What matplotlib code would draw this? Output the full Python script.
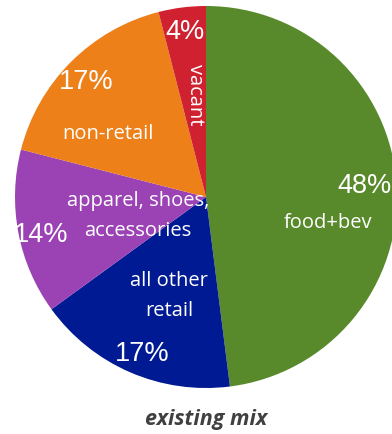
import matplotlib
matplotlib.use("Agg")
import matplotlib.pyplot as plt

# slices, clockwise from 12 o'clock
categories = ["food+bev", "all other retail", "apparel, shoes, accessories", "non-retail", "vacant"]
shares = [48, 17, 14, 17, 4]
colors = ["#58892A", "#001A93", "#9B43B4", "#EE8019", "#CF212F"]
pct_labels = ["48%", "17%", "14%", "17%", "4%"]
cat_labels = ["food+bev", "all other\nretail", "apparel, shoes,\naccessories", "non-retail", "vacant"]

W, H = 392, 434
fig = plt.figure(figsize=(W / 100, H / 100), dpi=100)
ax = fig.add_axes([0, 0, 1, 1])

cx, cy, R = 206, H - 197, 191
wedges, _ = ax.pie(shares, colors=colors, startangle=90, counterclock=False,
                   center=(cx, cy), radius=R, frame=True,
                   wedgeprops=dict(linewidth=0))
ax.set_xlim(0, W)
ax.set_ylim(0, H)
ax.set_aspect("equal")
ax.axis("off")

pct_font = dict(family=["Liberation Sans", "DejaVu Sans"], color="white", fontsize=19.5,
                ha="center", va="center")
cat_font = dict(family=["Open Sans", "DejaVu Sans"], color="white", fontsize=14.5,
                ha="center", va="center", linespacing=1.65)

# percentages
ax.text(365, H - 186, pct_labels[0], **pct_font)
ax.text(142, H - 354, pct_labels[1], **pct_font)
ax.text(41, H - 235, pct_labels[2], **pct_font)
ax.text(86, H - 82, pct_labels[3], **pct_font)
ax.text(185, H - 32, pct_labels[4], **pct_font)

# categories
ax.text(328, H - 223, cat_labels[0], **cat_font)
ax.text(169, H - 296, cat_labels[1], **cat_font)
ax.text(138, H - 216, cat_labels[2], **cat_font)
ax.text(108, H - 134, cat_labels[3], **cat_font)
ax.text(195, H - 95, cat_labels[4], rotation=-90, rotation_mode="anchor", **cat_font)

ax.text(206, H - 419, "existing mix", family=["Open Sans", "DejaVu Sans"], fontsize=15.5,
        fontweight="bold", fontstyle="italic", color="#404040", ha="center", va="center")

fig.savefig("out.png", dpi=100)
